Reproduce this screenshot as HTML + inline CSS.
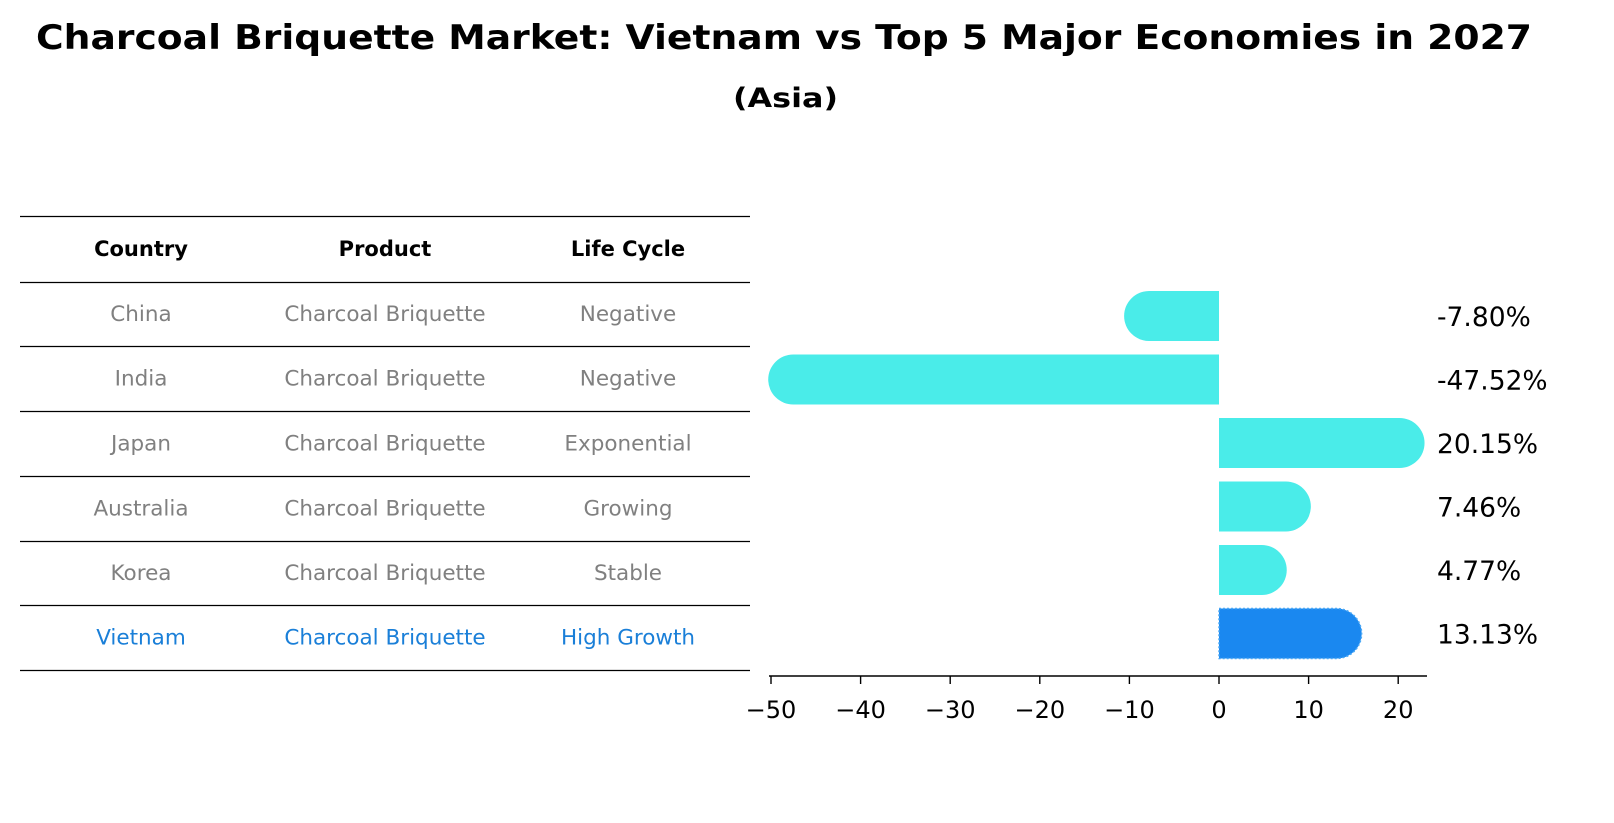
<!DOCTYPE html>
<html><head><meta charset="utf-8"><style>
html,body{margin:0;padding:0;background:#fff;overflow:hidden;width:1614px;height:823px;font-family:"Liberation Sans","DejaVu Sans",sans-serif;}
svg{display:block;}
svg text{font-family:"DejaVu Sans","Liberation Sans",sans-serif;}
</style></head><body>
<svg id="c" width="1614" height="823" viewBox="0 0 1614 823" xmlns="http://www.w3.org/2000/svg">
<text x="36" y="49" font-size="34" font-weight="bold" textLength="1496" lengthAdjust="spacingAndGlyphs">Charcoal Briquette Market: Vietnam vs Top 5 Major Economies in 2027</text>
<text x="733" y="107" font-size="27" font-weight="bold" textLength="105" lengthAdjust="spacingAndGlyphs">(Asia)</text>
<g id="table"></g>
<g id="bars"></g>
<g id="axis"></g>
</svg>
<script>
const countries=["China","India","Japan","Australia","Korea","Vietnam"];
const lifeCycles=["Negative","Negative","Exponential","Growing","Stable","High Growth"];
const values=[-7.80,-47.52,20.15,7.46,4.77,13.13];
const ticks=[-50,-40,-30,-20,-10,0,10,20];
const NS="http://www.w3.org/2000/svg";
function mk(t,a,p){const e=document.createElementNS(NS,t);for(const k in a)e.setAttribute(k,a[k]);p.appendChild(e);return e;}
const x=v=>1219+v*8.96;
const rowY=i=>316+i*63.5;
const tb=document.getElementById('table');
const lines=[216,282,346,411,476,541,605,670];
lines.forEach((y,i)=>{const l=mk('line',{x1:20,x2:750,y1:y+0.5,y2:y+0.5,stroke:'#000','stroke-width':1.2},tb);

});
const colX=[141,385,628];
["Country","Product","Life Cycle"].forEach((h,j)=>{const t=mk('text',{x:colX[j],y:256,'text-anchor':'middle','font-size':21,'font-weight':'bold'},tb);t.textContent=h;

});
countries.forEach((c,i)=>{const y=(lines[i+1]+lines[i+2])/2+7;const col=c==="Vietnam"?"#1a7fd8":"#808080";
[c,"Charcoal Briquette",lifeCycles[i]].forEach((s,j)=>{const t=mk('text',{x:colX[j],y:y,'text-anchor':'middle','font-size':21.5,fill:col},tb);t.textContent=s;

});});
const bg=document.getElementById('bars');
const h=50,r=25;
values.forEach((v,i)=>{const cy=rowY(i),y0=cy-h/2,x0=x(0),xv=x(v);const hl=countries[i]==="Vietnam";
const fill=hl?"#1a88f0":"#4aece9";let d;
if(v>=0){d=`M${x0},${y0} H${xv} A${r},${r} 0 0 1 ${xv},${y0+h} H${x0} Z`;}
else{d=`M${x0},${y0} H${xv} A${r},${r} 0 0 0 ${xv},${y0+h} H${x0} Z`;}
const p=mk('path',{d:d,fill:fill},bg);
if(hl){p.setAttribute('stroke','#4aa8f5');p.setAttribute('stroke-dasharray','2,2');p.setAttribute('stroke-width','1.5');}


const t=mk('text',{x:1437,y:cy+10,'font-size':26.5},bg);t.textContent=v.toFixed(2)+"%";

});
const ax=document.getElementById('axis');
mk('line',{x1:769,x2:1427,y1:676,y2:676,stroke:'#000','stroke-width':1.5},ax);
ticks.forEach(tv=>{mk('line',{x1:x(tv),x2:x(tv),y1:676,y2:684,stroke:'#000','stroke-width':1.4},ax);
const t=mk('text',{x:x(tv),y:718,'text-anchor':'middle','font-size':24},ax);t.textContent=tv<0?"\u2212"+Math.abs(tv):String(tv);

});
</script>
</body></html>
